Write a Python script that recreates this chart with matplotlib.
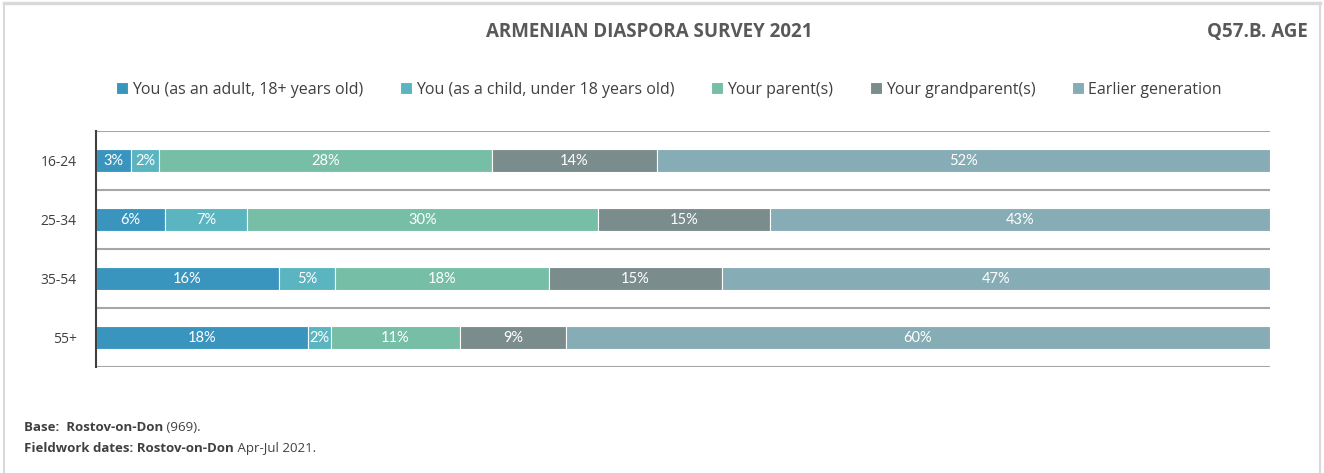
import numpy as np
import matplotlib.pyplot as plt

# ==============================================
# data
# ==============================================

ages = ['16-24', '25-34', '35-54', '55+']
series = ['You (as an adult, 18+ years old)', 'You (as a child, under 18 years old)',
          'Your parent(s)', 'Your grandparent(s)', 'Earlier generation']
adult = [3.0, 5.9, 15.6, 18.1]
child = [2.4, 7.0, 4.8, 1.9]
parent = [28.3, 29.9, 18.2, 11.0]
grand = [14.1, 14.6, 14.7, 9.0]
earlier = [52.2, 42.6, 46.7, 60.0]

colors = ['#3a95be', '#5ab5c0', '#77bea6', '#7b8c8d', '#86acb6']

# ==============================================
# figure
# ==============================================

fig = plt.figure(figsize=(13.24, 4.73), dpi=100)
ax = fig.add_axes([0.0725, 0.224, 0.8867, 0.499])

y = np.arange(len(ages))
left = np.zeros(len(ages))
for name, vals, c in zip(series, [adult, child, parent, grand, earlier], colors):
    vals = np.array(vals)
    ax.barh(y, vals, left=left, height=0.4, color=c, edgecolor='white',
            linewidth=0.8, label=name)
    for yi, l, v in zip(y, left, vals):
        ax.text(l + v / 2, yi, f'{v:.0f}%', ha='center', va='center',
                color='white', fontsize=10.5, family='Lato')
    left += vals

ax.set_xlim(0, 100)
ax.set_ylim(len(ages) - 0.5, -0.5)
ax.set_yticks(y)
ax.set_yticklabels(ages, fontsize=10, color='#404040', family='Open Sans')
ax.set_xticks([])
ax.tick_params(axis='y', length=0, pad=14)
for yl in np.arange(-0.5, len(ages), 1.0):
    ax.axhline(yl, color='#a6a6a6', lw=1.5, zorder=0)
for s in ['top', 'right', 'bottom']:
    ax.spines[s].set_visible(False)
ax.spines['left'].set_color('#404040')
ax.spines['left'].set_linewidth(1.5)

fig.legend(loc='center', bbox_to_anchor=(0.505, 0.81), ncol=5, frameon=False,
           handlelength=0.75, handleheight=0.75, handletextpad=0.25, columnspacing=2.3,
           prop={'family': 'Open Sans', 'size': 11.5}, labelcolor='#404040')

fig.text(0.49, 0.933, 'ARMENIAN DIASPORA SURVEY 2021', ha='center', va='center',
         fontsize=13.5, fontweight='bold', color='#595959', family='Open Sans')
fig.text(0.988, 0.933, 'Q57.B. AGE', ha='right', va='center',
         fontsize=13.5, fontweight='bold', color='#595959', family='Open Sans')

# ========= footer: bold part, then normal part right after it ============

foot = dict(fontsize=9.5, color='#404040', family='Open Sans', va='baseline')
t1 = fig.text(0.018, 0.088, 'Base:  Rostov-on-Don', fontweight='bold', **foot)
t2 = fig.text(0.018, 0.045, 'Fieldwork dates: Rostov-on-Don', fontweight='bold', **foot)
fig.canvas.draw()
renderer = fig.canvas.get_renderer()
for t, rest in [(t1, ' (969).'), (t2, ' Apr-Jul 2021.')]:
    x_end = t.get_window_extent(renderer).x1 / fig.bbox.width
    fig.text(x_end, t.get_position()[1], rest, **foot)

# frame around the whole picture
fig.add_artist(plt.Line2D([0.003, 0.997], [0.993, 0.993], color='#d9d9d9', lw=2.5,
                          transform=fig.transFigure))
fig.add_artist(plt.Line2D([0.003, 0.003], [0, 0.993], color='#d9d9d9', lw=1.5,
                          transform=fig.transFigure))
fig.add_artist(plt.Line2D([0.997, 0.997], [0, 0.993], color='#d9d9d9', lw=1.5,
                          transform=fig.transFigure))

fig.savefig('out.png', dpi=100)
